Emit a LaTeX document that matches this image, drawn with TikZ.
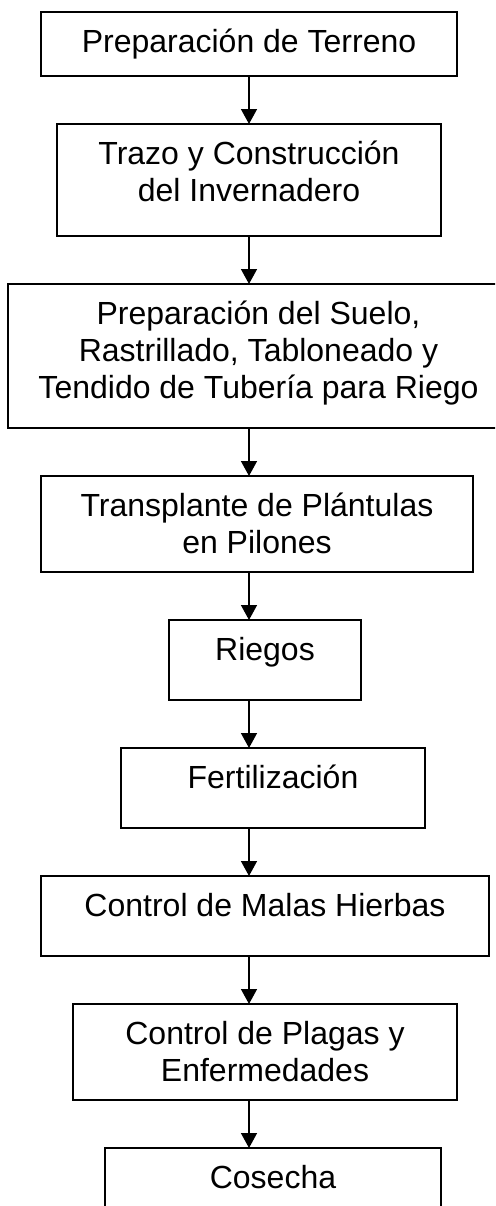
\documentclass[tikz,border=0pt]{standalone}
\usepackage{fontspec}
\setmainfont{Liberation Sans}
\usetikzlibrary{arrows.meta}

\tikzset{
  paso/.style={draw, line width=1pt, anchor=north, inner sep=0pt, outer sep=0pt},
  rotulo/.style={anchor=north, align=center, inner sep=0pt, yshift=-8.3pt,
    font=\fontsize{16pt}{18.5pt}\selectfont},
  flecha/.style={line width=0.75pt, -{Triangle[width=8pt,length=7.5pt]}},
}

\begin{document}
\begin{tikzpicture}[x=0.5pt, y=-0.5pt]
    \clip (0,0) rectangle (495,1206);
    \coordinate (eje) at (249,0);
    % cajas
    \node[paso, minimum width=208pt, minimum height=32pt, label={[rotulo]90:{Preparación de Terreno}}] (terreno) at (249,12) {};
    \node[paso, minimum width=192pt, minimum height=56pt, label={[rotulo]90:{Trazo y Construcción\\del Invernadero}}] (trazo) at (249,124) {};
    \node[paso, minimum width=250.5pt, minimum height=72pt, label={[rotulo]90:{Preparación del Suelo,\\Rastrillado, Tabloneado y\\Tendido de Tubería para Riego}}] (suelo) at (258.5,284) {};
    \node[paso, minimum width=216pt, minimum height=48pt, label={[rotulo]90:{Transplante de Plántulas\\en Pilones}}] (trasplante) at (257,476) {};
    \node[paso, minimum width=96pt, minimum height=40pt, label={[rotulo]90:{Riegos}}] (riegos) at (265,620) {};
    \node[paso, minimum width=152pt, minimum height=40pt, label={[rotulo]90:{Fertilización}}] (fertil) at (273,748) {};
    \node[paso, minimum width=224pt, minimum height=40pt, label={[rotulo]90:{Control de Malas Hierbas}}] (malezas) at (265,876) {};
    \node[paso, minimum width=192pt, minimum height=48pt, label={[rotulo]90:{Control de Plagas y\\Enfermedades}}] (plagas) at (265,1004) {};
    \node[paso, minimum width=168pt, minimum height=40pt, label={[rotulo]90:{Cosecha}}] (cosecha) at (273,1148) {};
    % flechas
    \draw[flecha] (terreno.south -| eje) -- (trazo.north -| eje);
    \draw[flecha] (trazo.south -| eje) -- (suelo.north -| eje);
    \draw[flecha] (suelo.south -| eje) -- (trasplante.north -| eje);
    \draw[flecha] (trasplante.south -| eje) -- (riegos.north -| eje);
    \draw[flecha] (riegos.south -| eje) -- (fertil.north -| eje);
    \draw[flecha] (fertil.south -| eje) -- (malezas.north -| eje);
    \draw[flecha] (malezas.south -| eje) -- (plagas.north -| eje);
    \draw[flecha] (plagas.south -| eje) -- (cosecha.north -| eje);
\end{tikzpicture}
\end{document}
